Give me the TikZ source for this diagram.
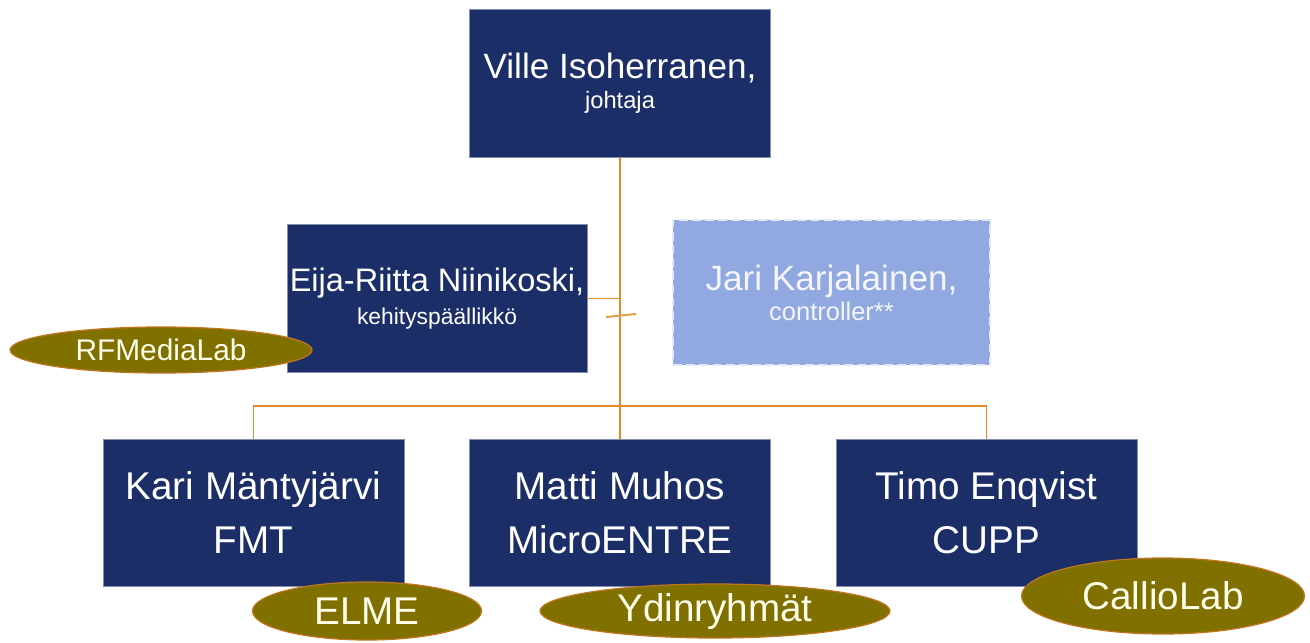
\documentclass[tikz,border=0pt]{standalone}
\usepackage{fontspec}
\setmainfont{Liberation Sans}
\usepackage{xcolor}
\usepackage{tikz}
\usetikzlibrary{positioning, shapes.geometric}
\definecolor{navy}{RGB}{27,46,104}
\definecolor{liteblue}{RGB}{145,168,225}
\definecolor{olive}{RGB}{127,112,0}
\definecolor{linkorange}{RGB}{226,138,36}
\newcommand{\fs}[2]{\fontsize{#1}{#2}\selectfont}

\begin{document}
\begin{tikzpicture}[x=0.02cm, y=-0.02cm,
    every node/.style={inner sep=0pt, align=center, text=white},
    person/.style={draw=navy!55!white, fill=navy, line width=0.5pt, minimum width=6.02cm, minimum height=2.96cm},
    lab/.style={ellipse, draw=linkorange!85!black, fill=olive, line width=0.7pt, text=white!92!yellow},
    link/.style={draw=linkorange, line width=1.1pt}]
    \useasboundingbox (0,0) rectangle (1310,642);
    % top row
    \node[person, font=\fs{20}{17}] (ville) at (620,83.5) {Ville Isoherranen,\\\fs{13.5}{17}johtaja};
    \node[person, minimum width=6cm, font=\fs{18.5}{19}] (eija) at (437,298.5) {Eija-Riitta Niinikoski,\\\fs{13}{19}kehityspäällikkö};
    \node[person, fill=liteblue, draw=white!75!liteblue, line width=1.2pt, dash pattern=on 5pt off 2.5pt,
          minimum width=6.34cm, minimum height=2.9cm, text=white!90!liteblue, font=\fs{20}{17}] (jari) at (831.5,292.5)
          {Jari Karjalainen,\\\fs{14.5}{17}controller**};
    % bottom row
    \foreach \n/\x/\a/\b in {kari/253.5/Kari Mäntyjärvi/FMT, matti/620/Matti Muhos/MicroENTRE, timo/986.5/Timo Enqvist/CUPP} {
        \node[person, minimum height=2.94cm, font=\fs{22}{31}] (\n) at (\x,512.5) {\a\\\b};
    }
    % connectors
    \coordinate (fork) at (620,406);
    \coordinate (tickl) at (606,317);
    \coordinate (tickr) at (636,314);
    \draw[link] (ville.south) -- (matti.north);
    \draw[link] (eija.east) -- (eija.east -| ville.south);
    \draw[link] (kari.north) |- (fork) -| (timo.north);
    \draw[link, draw=linkorange!85] (tickl) -- (tickr);
    % labs
    \node[lab, minimum width=6.04cm, minimum height=0.92cm, font=\fs{17}{20}] (rfml) at (161,350) {RFMediaLab};
    \node[lab, minimum width=4.58cm, minimum height=1.16cm, font=\fs{22}{26}] (elme) at (367,611) {ELME};
    \node[lab, minimum width=7cm, minimum height=1.08cm, font=\fs{22}{26}] (ydin) at (715,611) {Ydinryhmät};
    \node[lab, minimum width=5.66cm, minimum height=1.52cm, font=\fs{22}{26}] (callio) at (1163,596) {CallioLab};
\end{tikzpicture}
\end{document}
